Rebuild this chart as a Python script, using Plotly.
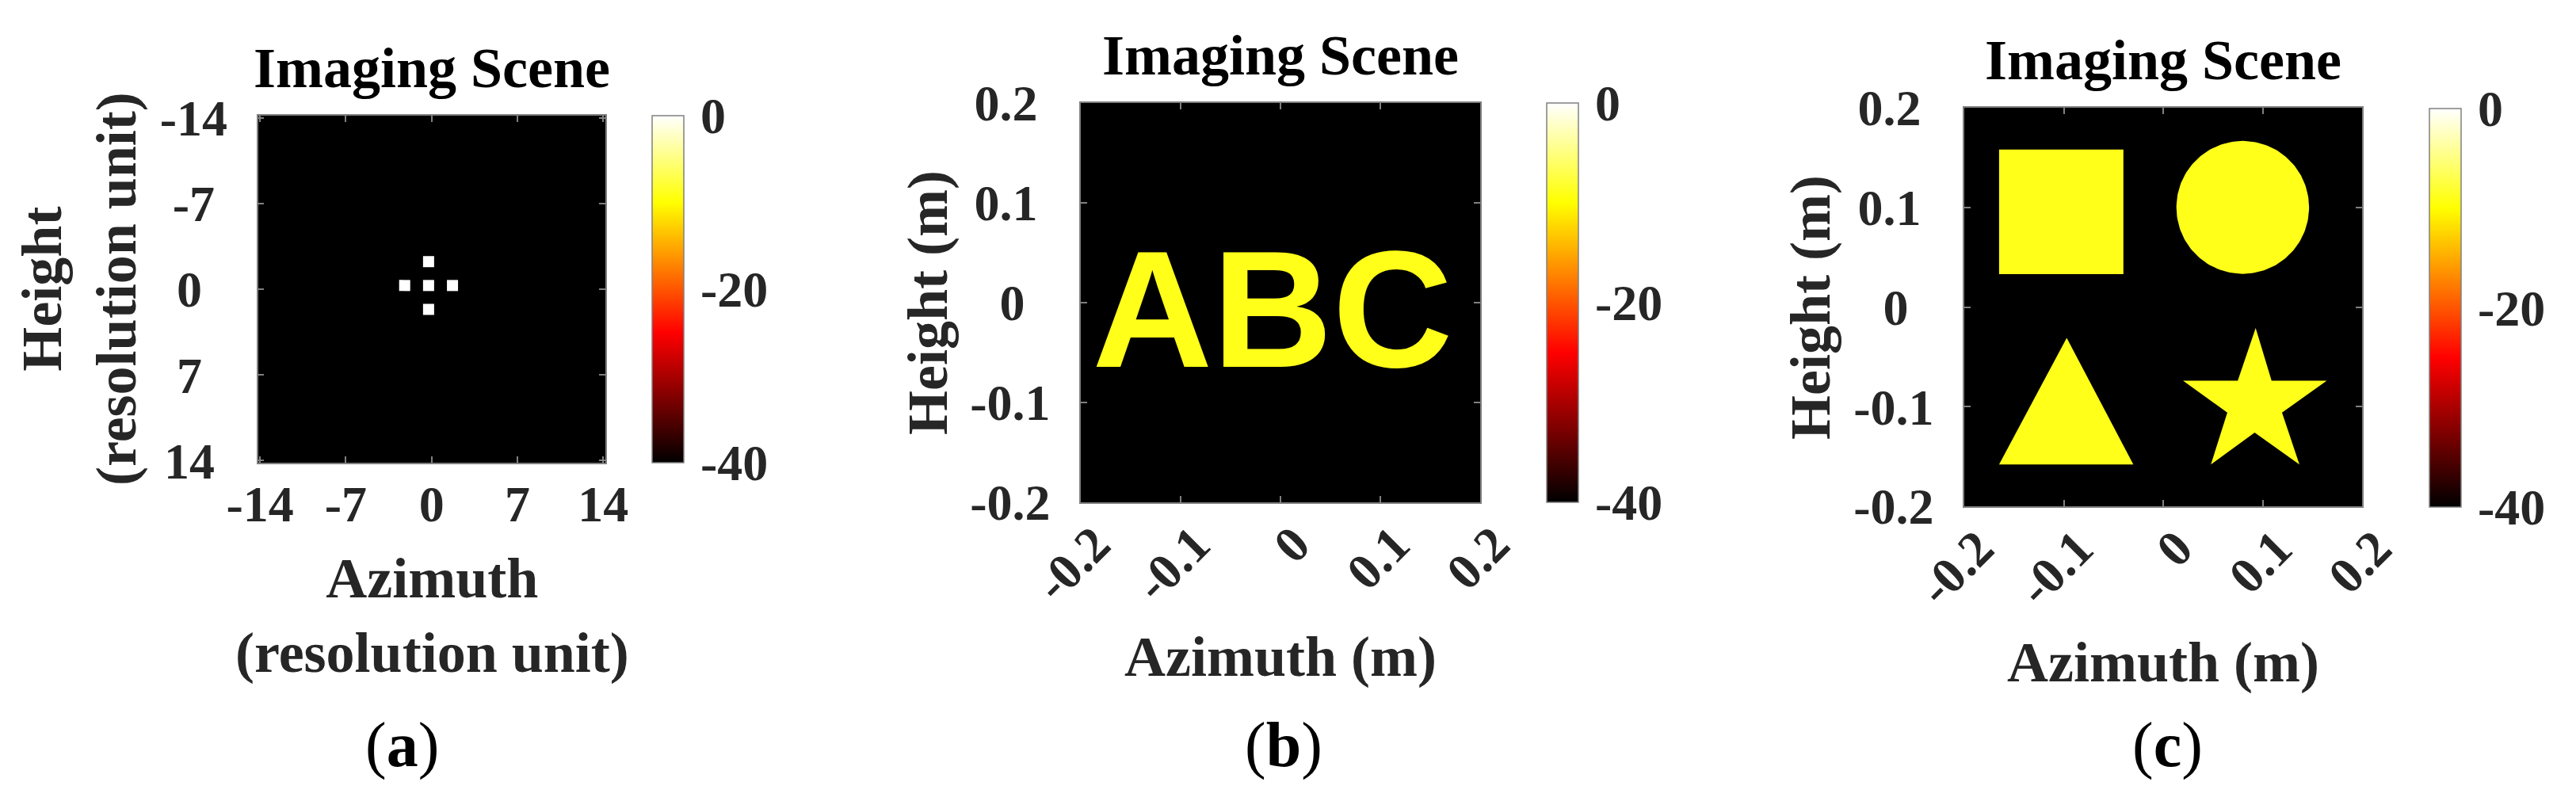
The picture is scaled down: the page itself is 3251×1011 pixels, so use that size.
import numpy as np
import plotly.graph_objects as go

W, H = 3251, 1011
SERIF = "Liberation Serif"
SANS = "Liberation Sans"
TXT = "#262626"
FRAME = "#808080"

# ---------------- data ----------------
DB_MIN, DB_MAX = -40, 0
HOT = [[0.0, "rgb(0,0,0)"], [0.375, "rgb(255,0,0)"],
       [0.75, "rgb(255,255,0)"], [1.0, "rgb(255,255,255)"]]
CBAR_TICKS = [-40, -20, 0]
CBAR_TICKTEXT = ["-40", "-20", "0"]

# panel (a): point targets (resolution units)
A_TICKS = [-14, -7, 0, 7, 14]
A_TICKTEXT = ["-14", "-7", "0", "7", "14"]
A_LIM = 14.17
A_TARGET_AZ = [-2.2, -0.25, 1.7, -0.25, -0.25]
A_TARGET_H = [-0.3, -0.3, -0.3, -2.25, 1.65]
A_TARGET_DB = [0, 0, 0, 0, 0]

# panels (b), (c)
BC_TICKS = [-0.2, -0.1, 0, 0.1, 0.2]
BC_TICKTEXT = ["-0.2", "-0.1", "0", "0.1", "0.2"]
BC_LIM = 0.2
SCENE_DB = -9

B_TEXT = "ABC"
B_TEXT_AZ = -0.008
B_TEXT_H = -0.023

C_SQUARE_AZ = [-0.165, -0.040, -0.040, -0.165, -0.165]
C_SQUARE_H = [0.033, 0.033, 0.158, 0.158, 0.033]
C_CIRCLE_CENTER = (0.080, 0.100)
C_CIRCLE_R = 0.0667
C_TRI_AZ = [-0.165, -0.030, -0.097, -0.165]
C_TRI_H = [-0.158, -0.158, -0.031, -0.158]
C_STAR_AZ = [0.093, 0.109, 0.1645, 0.1195, 0.137, 0.092, 0.048, 0.0645, 0.020, 0.075, 0.093]
C_STAR_H = [-0.021, -0.074, -0.074, -0.106, -0.158, -0.126, -0.158, -0.106, -0.074, -0.074, -0.021]

# ---------------- layout geometry (pixels) ----------------
PLOTS = {  # left, right, top, bottom
    "a": (317.5, 756, 138, 576),
    "b": (1356, 1860, 122, 626),
    "c": (2471, 2973, 128, 631),
}
CBARS = {  # left, top, length
    "a": (815, 138, 438),
    "b": (1944, 122, 504),
    "c": (3058, 129, 503),
}


def fx(px):
    return px / W


def fy(py):
    return 1 - py / H


def hot_color(db):
    t = (db - DB_MIN) / (DB_MAX - DB_MIN)
    stops = [(0.0, (0, 0, 0)), (0.375, (255, 0, 0)), (0.75, (255, 255, 0)), (1.0, (255, 255, 255))]
    for (t0, c0), (t1, c1) in zip(stops[:-1], stops[1:]):
        if t0 <= t <= t1:
            f = (t - t0) / (t1 - t0)
            return "rgb(%d,%d,%d)" % tuple(round(a + f * (b - a)) for a, b in zip(c0, c1))
    return "rgb(255,255,255)"


def centered_labels(labels):
    """Pad right-aligned tick labels with no-break spaces so they look centred (as in the source)."""
    cw = {"-": 0.333, ".": 0.25}
    widths = [sum(cw.get(ch, 0.5) for ch in s) for s in labels]
    wmax = max(widths)
    return [s + "\u00a0" * int(round((wmax - w) / 2 / 0.25)) for s, w in zip(labels, widths)]


FILL = hot_color(SCENE_DB)

fig = go.Figure()

# ---- panel (a)
fig.add_trace(go.Heatmap(x=[-A_LIM, A_LIM], y=[-A_LIM, A_LIM], z=[[DB_MIN, DB_MIN], [DB_MIN, DB_MIN]],
                         coloraxis="coloraxis", xaxis="x", yaxis="y", hoverinfo="skip"))
fig.add_trace(go.Scatter(x=A_TARGET_AZ, y=A_TARGET_H, mode="markers", xaxis="x", yaxis="y",
                         marker=dict(symbol="square", size=14, color=A_TARGET_DB,
                                     coloraxis="coloraxis", line=dict(width=0)),
                         hoverinfo="skip", showlegend=False))

# ---- panel (b)
fig.add_trace(go.Heatmap(x=[-BC_LIM, BC_LIM], y=[-BC_LIM, BC_LIM], z=[[DB_MIN, DB_MIN], [DB_MIN, DB_MIN]],
                         coloraxis="coloraxis2", xaxis="x2", yaxis="y2", hoverinfo="skip"))
fig.add_trace(go.Scatter(x=[B_TEXT_AZ], y=[B_TEXT_H], mode="text", text=[B_TEXT], xaxis="x2", yaxis="y2",
                         textposition="middle center",
                         textfont=dict(family=SANS, size=210, color=FILL, weight="bold"),
                         hoverinfo="skip", showlegend=False))

# ---- panel (c)
fig.add_trace(go.Heatmap(x=[-BC_LIM, BC_LIM], y=[-BC_LIM, BC_LIM], z=[[DB_MIN, DB_MIN], [DB_MIN, DB_MIN]],
                         coloraxis="coloraxis3", xaxis="x3", yaxis="y3", hoverinfo="skip"))
theta = np.linspace(0, 2 * np.pi, 181)
circle_az = C_CIRCLE_CENTER[0] + C_CIRCLE_R * np.cos(theta)
circle_h = C_CIRCLE_CENTER[1] + C_CIRCLE_R * np.sin(theta)
for sx, sy in [(C_SQUARE_AZ, C_SQUARE_H), (circle_az, circle_h), (C_TRI_AZ, C_TRI_H), (C_STAR_AZ, C_STAR_H)]:
    fig.add_trace(go.Scatter(x=sx, y=sy, mode="lines", fill="toself", fillcolor=FILL,
                             line=dict(width=0, color=FILL), xaxis="x3", yaxis="y3",
                             hoverinfo="skip", showlegend=False))

# ---------------- axes ----------------
tickfont = dict(family=SERIF, size=64, color=TXT, weight="bold")


def axis_common(domain, rng, tickvals, ticktext, anchor):
    return dict(domain=domain, range=rng, tickvals=tickvals, ticktext=ticktext, anchor=anchor,
                showline=True, linecolor=FRAME, linewidth=1.5, mirror="ticks",
                ticks="inside", ticklen=8, tickwidth=1.5, tickcolor=FRAME,
                showgrid=False, zeroline=False, tickfont=tickfont, fixedrange=True,
                automargin=False)


layout_axes = {}
for key, (xa, ya, ax_id) in zip("abc", [("xaxis", "yaxis", ""), ("xaxis2", "yaxis2", "2"), ("xaxis3", "yaxis3", "3")]):
    l, r, t, b = PLOTS[key]
    xd = [fx(l), fx(r)]
    yd = [fy(b), fy(t)]
    if key == "a":
        xx = axis_common(xd, [-A_LIM, A_LIM], A_TICKS, A_TICKTEXT, "y")
        yy = axis_common(yd, [A_LIM, -A_LIM], A_TICKS, centered_labels(A_TICKTEXT), "x")
        xx.update(tickangle=0, ticklabelstandoff=-5)
        yy.update(ticklabelstandoff=24)
    else:
        xx = axis_common(xd, [-BC_LIM, BC_LIM], BC_TICKS, BC_TICKTEXT, "y" + ax_id)
        yy = axis_common(yd, [-BC_LIM, BC_LIM], BC_TICKS, centered_labels(BC_TICKTEXT), "x" + ax_id)
        xx.update(tickangle=-45, ticklabelstandoff=-12, ticklabelshift=18)
        yy.update(ticklabelstandoff=24)
    layout_axes[xa] = xx
    layout_axes[ya] = yy


def cbar(key):
    l, t, ln = CBARS[key]
    return dict(x=fx(l), xanchor="left", xpad=0, y=fy(t), yanchor="top", ypad=0,
                len=ln, lenmode="pixels", thickness=40, thicknessmode="pixels",
                outlinewidth=1.5, outlinecolor=FRAME,
                tickvals=CBAR_TICKS, ticktext=CBAR_TICKTEXT,
                ticks="outside", ticklen=8, tickcolor="rgba(0,0,0,0)",
                tickfont=dict(family=SERIF, size=64, color=TXT, weight="bold"))


def cax(key):
    return dict(cmin=DB_MIN, cmax=DB_MAX, colorscale=HOT, colorbar=cbar(key))


# ---------------- text annotations ----------------
def ann(text, xp, yp, size, angle=0, color=TXT, weight="bold"):
    return dict(text=text, x=fx(xp), y=fy(yp), xref="paper", yref="paper",
                xanchor="center", yanchor="middle", showarrow=False, textangle=angle,
                font=dict(family=SERIF, size=size, color=color, weight=weight))


annotations = [
    ann("Imaging Scene", 537, 78, 72, color="#000000"),
    ann("Imaging Scene", 1608, 62, 72, color="#000000"),
    ann("Imaging Scene", 2722, 68, 72, color="#000000"),
    ann("Azimuth<br>(resolution unit)", 537, 769, 72),
    ann("Azimuth (m)", 1608, 821, 72),
    ann("Azimuth (m)", 2722, 828, 72),
    ann("Height<br>(resolution unit)", 92, 357, 72, angle=-90),
    ann("Height (m)", 1163, 374, 72, angle=-90),
    ann("Height (m)", 2277, 380, 72, angle=-90),
    ann("(<b>a</b>)", 499, 932, 80, color="#000000", weight="normal"),
    ann("(<b>b</b>)", 1612, 932, 80, color="#000000", weight="normal"),
    ann("(<b>c</b>)", 2727, 932, 80, color="#000000", weight="normal"),
]

fig.update_layout(
    width=W, height=H, autosize=False,
    margin=dict(l=0, r=0, t=0, b=0, pad=0, autoexpand=False),
    paper_bgcolor="white", plot_bgcolor="black",
    showlegend=False,
    coloraxis=cax("a"), coloraxis2=cax("b"), coloraxis3=cax("c"),
    annotations=annotations,
    **layout_axes,
)

fig.write_html("out.html")
